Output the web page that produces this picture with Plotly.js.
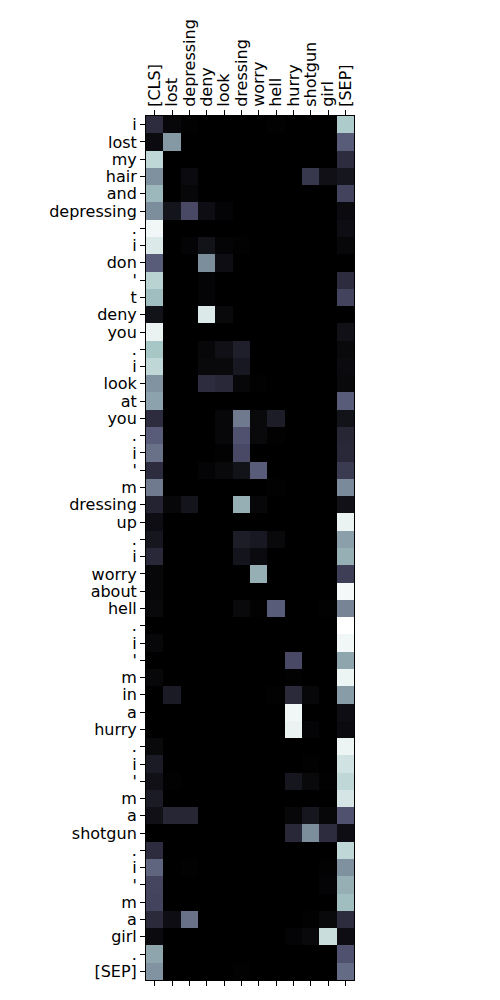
<!DOCTYPE html>
<html>
<head>
<meta charset="utf-8">
<script src="https://cdn.plot.ly/plotly-3.0.1.min.js"></script>
<style>html,body{margin:0;padding:0;background:#fff;}#chart{width:500px;height:1000px;}</style>
</head>
<body>
<div id="chart"></div>
<script>
// Column tokens (keywords)
const colLabels = ["[CLS]","lost","depressing","deny","look","dressing","worry","hell","hurry","shotgun","girl","[SEP]"];
// Row tokens (sentence)
const rowLabels = ["i","lost","my","hair","and","depressing",".","i","don","'","t","deny","you",".","i","look","at","you",".","i","'","m","dressing","up",".","i","worry","about","hell",".","i","'","m","in","a","hurry",".","i","'","m","a","shotgun",".","i","'","m","a","girl",".","[SEP]"];
// Attention weights, one array per row token (columns follow colLabels)
const weights = [
  [0.20,0.03,0.01,0.00,0.00,0.00,0.00,0.01,0.00,0.00,0.00,0.77],
  [0.05,0.60,0.00,0.00,0.00,0.00,0.00,0.00,0.00,0.00,0.00,0.40],
  [0.82,0.00,0.00,0.00,0.00,0.00,0.00,0.00,0.00,0.00,0.00,0.20],
  [0.57,0.00,0.05,0.00,0.00,0.00,0.00,0.00,0.00,0.25,0.07,0.10],
  [0.70,0.00,0.03,0.00,0.00,0.00,0.00,0.00,0.00,0.00,0.00,0.30],
  [0.56,0.09,0.33,0.06,0.02,0.00,0.00,0.00,0.00,0.00,0.00,0.05],
  [0.96,0.00,0.00,0.00,0.00,0.00,0.00,0.00,0.00,0.00,0.00,0.06],
  [0.90,0.00,0.02,0.08,0.02,0.01,0.00,0.00,0.00,0.00,0.00,0.03],
  [0.40,0.00,0.00,0.56,0.06,0.00,0.00,0.00,0.00,0.00,0.00,0.00],
  [0.80,0.00,0.00,0.02,0.00,0.00,0.00,0.00,0.00,0.00,0.00,0.20],
  [0.72,0.00,0.00,0.02,0.00,0.00,0.00,0.00,0.00,0.00,0.00,0.30],
  [0.08,0.00,0.00,0.90,0.04,0.00,0.00,0.00,0.00,0.00,0.00,0.00],
  [0.94,0.00,0.00,0.00,0.00,0.00,0.00,0.00,0.00,0.00,0.00,0.07],
  [0.75,0.00,0.00,0.03,0.07,0.14,0.00,0.00,0.00,0.00,0.00,0.04],
  [0.82,0.00,0.00,0.04,0.04,0.11,0.00,0.00,0.00,0.00,0.00,0.05],
  [0.58,0.00,0.00,0.20,0.18,0.03,0.01,0.00,0.00,0.00,0.00,0.04],
  [0.63,0.00,0.00,0.00,0.00,0.00,0.00,0.00,0.00,0.00,0.00,0.40],
  [0.20,0.00,0.00,0.00,0.03,0.50,0.04,0.13,0.00,0.00,0.00,0.08],
  [0.40,0.00,0.00,0.00,0.03,0.36,0.04,0.01,0.00,0.00,0.00,0.17],
  [0.47,0.00,0.00,0.00,0.01,0.33,0.00,0.00,0.00,0.00,0.00,0.18],
  [0.20,0.00,0.00,0.02,0.04,0.08,0.40,0.00,0.00,0.00,0.00,0.26],
  [0.50,0.00,0.00,0.00,0.00,0.00,0.00,0.01,0.00,0.00,0.00,0.55],
  [0.16,0.03,0.09,0.00,0.00,0.67,0.03,0.00,0.00,0.00,0.00,0.07],
  [0.06,0.00,0.00,0.00,0.00,0.00,0.00,0.00,0.00,0.00,0.00,0.94],
  [0.10,0.00,0.00,0.00,0.00,0.13,0.11,0.04,0.00,0.00,0.00,0.62],
  [0.18,0.00,0.00,0.00,0.00,0.09,0.05,0.00,0.00,0.00,0.00,0.67],
  [0.03,0.00,0.00,0.00,0.00,0.00,0.67,0.00,0.00,0.00,0.00,0.28],
  [0.03,0.00,0.00,0.00,0.00,0.00,0.00,0.00,0.00,0.00,0.00,0.97],
  [0.04,0.00,0.00,0.00,0.00,0.04,0.01,0.40,0.00,0.00,0.01,0.53],
  [0.00,0.00,0.00,0.00,0.00,0.00,0.00,0.00,0.00,0.00,0.00,1.00],
  [0.03,0.00,0.00,0.00,0.00,0.00,0.00,0.00,0.00,0.00,0.00,0.96],
  [0.00,0.00,0.00,0.00,0.00,0.00,0.00,0.00,0.33,0.00,0.00,0.64],
  [0.03,0.00,0.00,0.00,0.00,0.00,0.00,0.00,0.01,0.00,0.00,0.95],
  [0.00,0.12,0.00,0.00,0.00,0.00,0.00,0.01,0.19,0.03,0.00,0.61],
  [0.00,0.00,0.00,0.00,0.00,0.00,0.00,0.00,0.96,0.00,0.00,0.06],
  [0.00,0.00,0.00,0.00,0.00,0.00,0.00,0.00,0.94,0.02,0.00,0.05],
  [0.04,0.00,0.00,0.00,0.00,0.00,0.00,0.00,0.00,0.00,0.00,0.95],
  [0.12,0.00,0.00,0.00,0.00,0.00,0.00,0.00,0.00,0.01,0.00,0.87],
  [0.07,0.01,0.00,0.00,0.00,0.00,0.00,0.00,0.10,0.04,0.01,0.82],
  [0.12,0.00,0.00,0.00,0.00,0.00,0.00,0.00,0.00,0.00,0.00,0.88],
  [0.07,0.17,0.17,0.00,0.00,0.00,0.00,0.00,0.03,0.10,0.03,0.36],
  [0.00,0.00,0.00,0.00,0.00,0.00,0.00,0.00,0.18,0.56,0.20,0.06],
  [0.20,0.00,0.00,0.00,0.00,0.00,0.00,0.00,0.00,0.00,0.00,0.82],
  [0.43,0.00,0.01,0.00,0.00,0.00,0.00,0.00,0.00,0.00,0.01,0.57],
  [0.31,0.00,0.00,0.00,0.00,0.00,0.00,0.00,0.00,0.00,0.02,0.67],
  [0.30,0.00,0.00,0.00,0.00,0.00,0.00,0.00,0.00,0.00,0.00,0.72],
  [0.19,0.06,0.47,0.00,0.00,0.00,0.00,0.00,0.00,0.01,0.04,0.20],
  [0.05,0.00,0.00,0.00,0.00,0.00,0.00,0.00,0.02,0.04,0.85,0.06],
  [0.64,0.00,0.00,0.00,0.00,0.00,0.00,0.00,0.00,0.00,0.00,0.36],
  [0.58,0.00,0.00,0.00,0.00,0.01,0.00,0.00,0.00,0.00,0.00,0.45]
];

// matplotlib "bone" colormap
const bone = [
  [0, "rgb(0,0,0)"],
  [0.365079, "rgb(81,81,113)"],
  [0.746032, "rgb(166,198,198)"],
  [1, "rgb(255,255,255)"]
];

const colIdx = colLabels.map((_, i) => i);
const rowIdx = rowLabels.map((_, i) => i);
const font = {family: "DejaVu Sans", size: 16, color: "#000"};

const traces = [
  {
    type: "heatmap",
    x: colIdx, y: rowIdx, z: weights,
    colorscale: bone, zmin: 0, zmax: 1,
    showscale: false, xaxis: "x", yaxis: "y",
    hoverinfo: "skip"
  },
  {
    type: "scatter", mode: "markers", x: [], y: [],
    xaxis: "x2", yaxis: "y", showlegend: false, hoverinfo: "skip"
  }
];

const layout = {
  width: 500, height: 1000,
  margin: {l: 146, r: 146, t: 116, b: 20, pad: 0},
  paper_bgcolor: "#fff", plot_bgcolor: "#fff",
  font: font,
  showlegend: false,
  xaxis: {
    side: "top", range: [-0.5, 11.5], tickvals: colIdx, ticktext: colLabels,
    tickangle: -90, ticks: "outside", ticklen: 5, tickwidth: 1, tickcolor: "#000",
    showline: true, mirror: true, linecolor: "#000", linewidth: 1,
    showgrid: false, zeroline: false, tickfont: font, fixedrange: true
  },
  xaxis2: {
    overlaying: "x", side: "bottom", anchor: "y", range: [-0.5, 11.5], tickvals: colIdx,
    showticklabels: false, ticks: "outside", ticklen: 5, tickwidth: 1, tickcolor: "#000",
    showgrid: false, zeroline: false, showline: false
  },
  yaxis: {
    range: [49.5, -0.5], tickvals: rowIdx, ticktext: rowLabels,
    ticks: "outside", ticklen: 5, tickwidth: 1, tickcolor: "#000",
    showline: true, mirror: true, linecolor: "#000", linewidth: 1,
    showgrid: false, zeroline: false, tickfont: font, fixedrange: true
  }
};

Plotly.newPlot("chart", traces, layout, {displayModeBar: false, staticPlot: true});
</script>
</body>
</html>
